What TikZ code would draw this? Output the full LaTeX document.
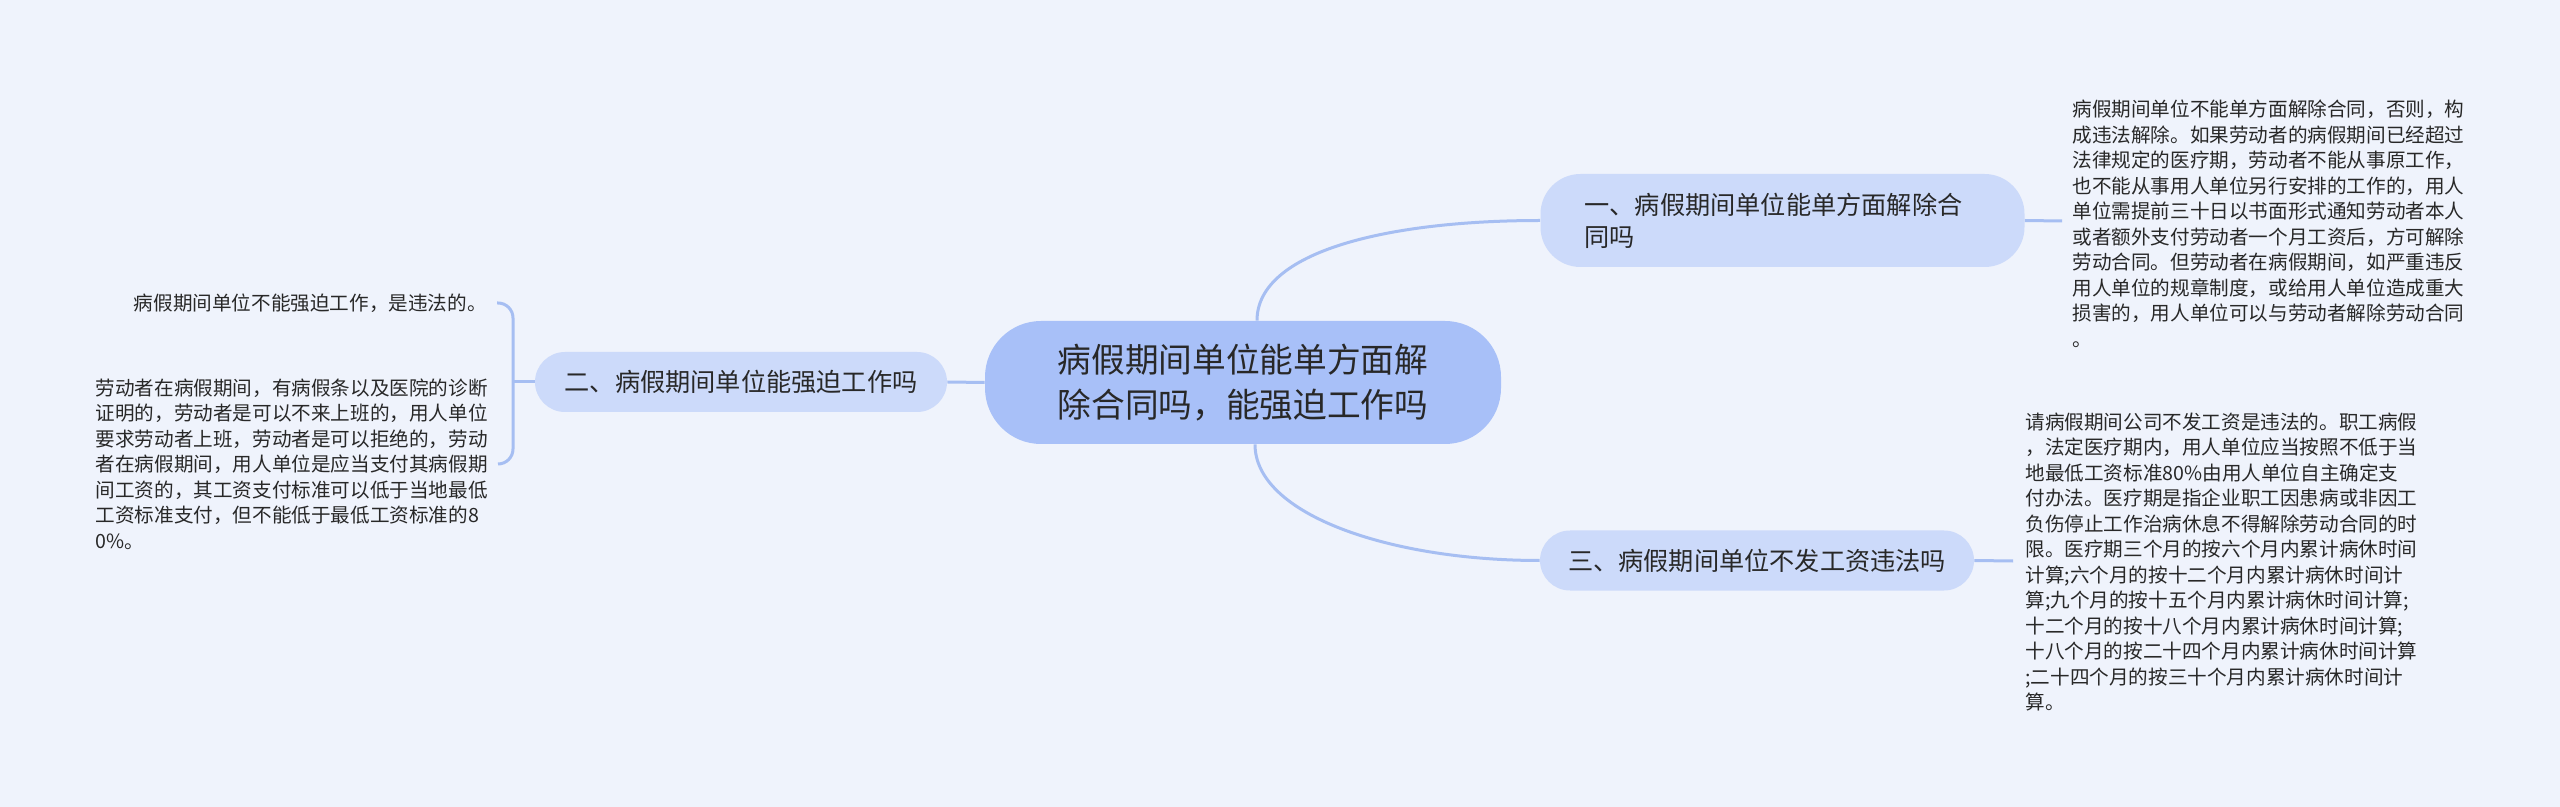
\documentclass[tikz,border=0pt]{standalone}
\usepackage{fontspec}
\setmainfont{Noto Sans CJK SC}
\usepackage{xcolor}
\definecolor{paperbg}{RGB}{239, 243, 252}
\definecolor{rootblue}{RGB}{168, 192, 248}
\definecolor{topicblue}{RGB}{204, 218, 250}
\definecolor{linkblue}{RGB}{166, 190, 242}
\definecolor{inkgray}{RGB}{40, 40, 40}
\usepackage{tikz}
\usetikzlibrary{positioning, calc}

\begin{document}
\begin{tikzpicture}[x=0.5pt, y=-0.5pt,
    root/.style={fill=rootblue, rounded corners=28pt, minimum width=258pt, minimum height=61.5pt, align=center, text=inkgray, font=\fontsize{16.85pt}{22.5pt}\selectfont},
    topic/.style={fill=topicblue, rounded corners=15pt, minimum height=30pt, text=inkgray, font=\fontsize{12.6pt}{16pt}\selectfont},
    leaf/.style={align=left, inner sep=0pt, text=inkgray, font=\fontsize{9.8pt}{12.75pt}\selectfont},
    link/.style={draw=linkblue, line width=1.5pt}]
    \fill[paperbg] (0, 0) rectangle (2560, 807);
    \useasboundingbox (0, 0) rectangle (2560, 807);

    \node[root] (q) at (1243, 382.5) {病假期间单位能单方面解\\除合同吗，能强迫工作吗};
    \node[topic, text width=198pt, inner xsep=22pt, minimum height=46.5pt, align=left, rounded corners=20pt] (t1) at (1782.5, 220.5) {一、病假期间单位能单方面解除合\\同吗};
    \node[topic, minimum width=206pt] (t2) at (741, 382) {二、病假期间单位能强迫工作吗};
    \node[topic, minimum width=217pt] (t3) at (1757, 560.5) {三、病假期间单位不发工资违法吗};

    \node[leaf, anchor=west] (l1) at (2072, 224) {病假期间单位不能单方面解除合同，否则，构\\成违法解除。如果劳动者的病假期间已经超过\\法律规定的医疗期，劳动者不能从事原工作，\\也不能从事用人单位另行安排的工作的，用人\\单位需提前三十日以书面形式通知劳动者本人\\或者额外支付劳动者一个月工资后，方可解除\\劳动合同。但劳动者在病假期间，如严重违反\\用人单位的规章制度，或给用人单位造成重大\\损害的，用人单位可以与劳动者解除劳动合同\\。};
    \node[leaf, anchor=west] (l3) at (2025, 562) {请病假期间公司不发工资是违法的。职工病假\\，法定医疗期内，用人单位应当按照不低于当\\地最低工资标准80\%由用人单位自主确定支\\付办法。医疗期是指企业职工因患病或非因工\\负伤停止工作治病休息不得解除劳动合同的时\\限。医疗期三个月的按六个月内累计病休时间\\计算;六个月的按十二个月内累计病休时间计\\算;九个月的按十五个月内累计病休时间计算;\\十二个月的按十八个月内累计病休时间计算;\\十八个月的按二十四个月内累计病休时间计算\\;二十四个月的按三十个月内累计病休时间计\\算。};
    \node[leaf, anchor=east] (l2a) at (487, 303) {病假期间单位不能强迫工作，是违法的。};
    \node[leaf, anchor=east] (l2b) at (488, 464) {劳动者在病假期间，有病假条以及医院的诊断\\证明的，劳动者是可以不来上班的，用人单位\\要求劳动者上班，劳动者是可以拒绝的，劳动\\者在病假期间，用人单位是应当支付其病假期\\间工资的，其工资支付标准可以低于当地最低\\工资标准支付，但不能低于最低工资标准的8\\0\%。};

    % root to topics
    \draw[link] ([xshift=7pt]q.north) .. controls +(0, -70) and +(-150, 0) .. (t1.west);
    \draw[link] ([xshift=6pt]q.south) .. controls +(0, 70) and +(-150, 0) .. (t3.west);
    \draw[link] (q.west) -- (t2.east);

    % topics to leaves
    \coordinate (e1) at (2062, 221);
    \coordinate (e3) at (2013, 561);
    \coordinate (k2) at (513, 382);
    \draw[link] (t1.east) -- (e1);
    \draw[link] (t3.east) -- (e3);
    \draw[link] (t2.west) -- (k2);
    \draw[link, rounded corners=7.5pt] ([xshift=5pt]l2a.east) -| (k2) |- ([xshift=5pt]l2b.east);
\end{tikzpicture}
\end{document}
